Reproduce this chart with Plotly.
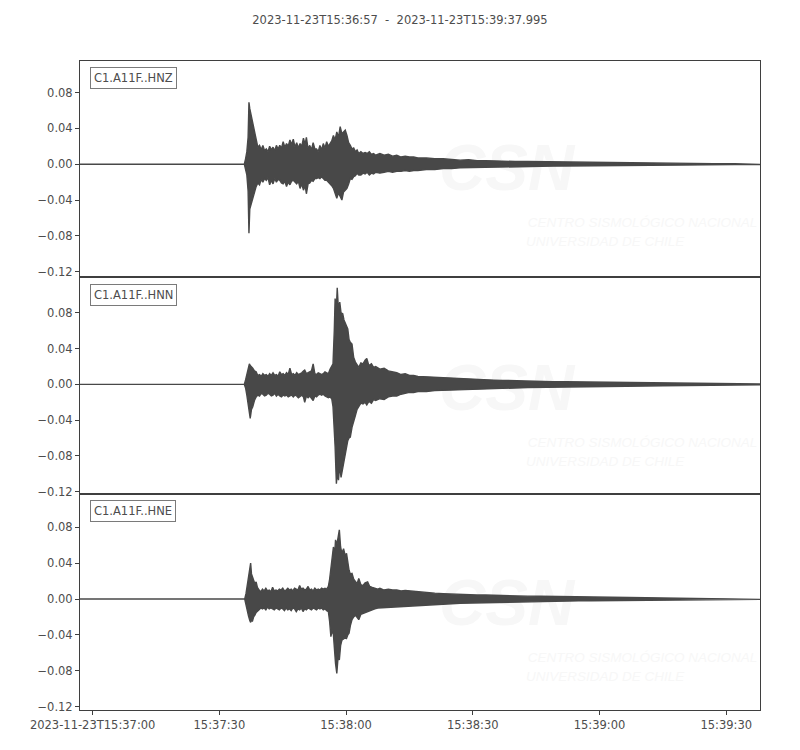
import pandas as pd
import plotly.graph_objects as go
from plotly.subplots import make_subplots

# ---------------- data (seconds after 2023-11-23T15:36:57, envelope max / min) ----------------
START = "2023-11-23 15:36:57"
END = "2023-11-23 15:39:37.995"
TITLE = "2023-11-23T15:36:57\u00a0\u00a0-\u00a0\u00a02023-11-23T15:39:37.995"
CHANNELS = ["C1.A11F..HNZ", "C1.A11F..HNN", "C1.A11F..HNE"]

T_Z = [0, 38.9, 39.2, 39.5, 39.8, 40.0, 40.2, 40.5, 40.8, 41.1, 41.4, 41.7, 42.1, 42.5, 42.9, 43.3,
       43.7, 44.1, 44.5, 44.9, 45.3, 45.7, 46.1, 46.5, 46.9, 47.3, 47.7, 48.1, 48.5, 48.9, 49.3, 49.7,
       50.1, 50.5, 50.9, 51.3, 51.7, 52.1, 52.5, 52.9, 53.3, 53.6, 54.0, 54.4, 54.8, 55.2, 55.6, 56.0,
       56.4, 56.8, 57.2, 57.6, 58.0, 58.4, 58.8, 59.2, 59.6, 60.0, 60.4, 60.8, 61.2, 61.6, 62.0, 62.4,
       62.8, 63.2, 63.6, 64.0, 64.4, 64.8, 65.2, 65.6, 66.0, 66.5, 67.0, 67.5, 68.0, 68.5, 69.0, 69.5,
       70.0, 71, 72, 73, 74, 75, 76, 77, 78, 79, 80, 82, 84, 86, 88, 90, 92, 94, 96, 98, 100, 103, 106,
       109, 112, 115, 118, 121, 124, 127, 130, 134, 138, 142, 146, 150, 155, 161]
UP_Z = [0, 0, 0.006, 0.014, 0.030, 0.069, 0.062, 0.055, 0.046, 0.042, 0.033, 0.025, 0.019, 0.021, 0.016, 0.021,
        0.015, 0.017, 0.014, 0.020, 0.016, 0.019, 0.015, 0.021, 0.017, 0.021, 0.018, 0.025, 0.019, 0.023, 0.020, 0.027,
        0.022, 0.028, 0.019, 0.024, 0.018, 0.023, 0.020, 0.029, 0.022, 0.030, 0.017, 0.021, 0.016, 0.024, 0.017, 0.017,
        0.014, 0.021, 0.016, 0.023, 0.018, 0.025, 0.020, 0.023, 0.026, 0.032, 0.027, 0.036, 0.030, 0.042, 0.034, 0.036,
        0.038, 0.032, 0.024, 0.021, 0.017, 0.018, 0.014, 0.016, 0.012, 0.014, 0.012, 0.013, 0.012, 0.014, 0.011, 0.012,
        0.010, 0.012, 0.010, 0.011, 0.009, 0.010, 0.008, 0.009, 0.008, 0.008, 0.007, 0.007, 0.006, 0.006, 0.005, 0.0045,
        0.005, 0.004, 0.004, 0.0035, 0.0035, 0.003, 0.003, 0.0028, 0.0025, 0.0025, 0.0022, 0.002, 0.0018, 0.0016, 0.0015,
        0.0013, 0.0012, 0.001, 0.0008, 0.0006, 0.0005, 0.0004]
LO_Z = [0, 0, -0.005, -0.012, -0.030, -0.077, -0.050, -0.046, -0.040, -0.035, -0.030, -0.025, -0.021, -0.023, -0.017, -0.020,
        -0.016, -0.018, -0.015, -0.023, -0.018, -0.022, -0.016, -0.020, -0.017, -0.018, -0.021, -0.022, -0.019, -0.025, -0.020, -0.023,
        -0.019, -0.018, -0.020, -0.022, -0.019, -0.027, -0.022, -0.029, -0.024, -0.033, -0.022, -0.021, -0.018, -0.019, -0.016, -0.016,
        -0.015, -0.016, -0.014, -0.016, -0.018, -0.018, -0.021, -0.022, -0.024, -0.027, -0.031, -0.038, -0.032, -0.035, -0.040, -0.031,
        -0.029, -0.027, -0.022, -0.016, -0.017, -0.014, -0.013, -0.010, -0.012, -0.012, -0.010, -0.011, -0.009, -0.012, -0.010, -0.011,
        -0.009, -0.010, -0.009, -0.008, -0.009, -0.008, -0.008, -0.007, -0.008, -0.007, -0.007, -0.006, -0.006, -0.005, -0.005, -0.004,
        -0.004, -0.0035, -0.003, -0.003, -0.003, -0.003, -0.0025, -0.0025, -0.0022, -0.002, -0.002, -0.0018, -0.0016, -0.0015, -0.0014,
        -0.0012, -0.0011, -0.001, -0.0008, -0.0006, -0.0005, -0.0004]

T_N = [0, 38.9, 39.2, 39.5, 39.8, 40.1, 40.3, 40.6, 40.9, 41.3, 41.7, 42.1, 42.5, 42.9, 43.3, 43.7,
       44.1, 44.5, 44.9, 45.3, 45.7, 46.1, 46.5, 46.9, 47.3, 47.7, 48.1, 48.5, 48.9, 49.3, 49.7, 50.1,
       50.5, 50.9, 51.3, 51.7, 52.1, 52.5, 52.9, 53.2, 53.6, 54.0, 54.4, 54.8, 55.2, 55.6, 56.0, 56.4,
       56.8, 57.2, 57.6, 58.0, 58.4, 58.8, 59.2, 59.6, 59.9, 60.2, 60.4, 60.7, 60.9, 61.2, 61.5, 61.8,
       62.2, 62.5, 62.8, 63.1, 63.4, 63.7, 64.0, 64.4, 64.8, 65.2, 65.6, 66.0, 66.5, 67.0, 67.5, 67.9,
       68.4, 69.0, 69.5, 70.0, 71, 72, 73, 74, 75, 76, 77, 78, 79, 80, 82, 84, 86, 88, 90, 92, 94, 96,
       98, 100, 103, 106, 109, 112, 115, 118, 121, 124, 127, 130, 134, 138, 142, 146, 150, 155, 161]
UP_N = [0, 0, 0.005, 0.012, 0.020, 0.023, 0.021, 0.020, 0.018, 0.015, 0.014, 0.010, 0.011, 0.009, 0.012, 0.010,
        0.011, 0.009, 0.012, 0.010, 0.013, 0.010, 0.011, 0.009, 0.014, 0.011, 0.012, 0.010, 0.013, 0.011, 0.018, 0.011,
        0.012, 0.010, 0.013, 0.011, 0.012, 0.013, 0.015, 0.016, 0.012, 0.013, 0.014, 0.015, 0.023, 0.012, 0.011, 0.013,
        0.012, 0.011, 0.012, 0.014, 0.013, 0.012, 0.017, 0.020, 0.023, 0.060, 0.096, 0.085, 0.108, 0.083, 0.092, 0.080,
        0.079, 0.072, 0.068, 0.064, 0.062, 0.050, 0.047, 0.045, 0.030, 0.025, 0.022, 0.019, 0.024, 0.023, 0.027, 0.029,
        0.021, 0.023, 0.019, 0.020, 0.017, 0.018, 0.015, 0.014, 0.013, 0.011, 0.012, 0.010, 0.010, 0.009, 0.0085, 0.008,
        0.007, 0.007, 0.0065, 0.006, 0.0055, 0.005, 0.0048, 0.0045, 0.004, 0.0035, 0.0033, 0.003, 0.003, 0.0028, 0.0026,
        0.0025, 0.0022, 0.002, 0.0019, 0.0016, 0.0013, 0.001, 0.0008, 0.0006, 0.0005]
LO_N = [0, 0, -0.004, -0.012, -0.018, -0.030, -0.038, -0.028, -0.025, -0.018, -0.014, -0.012, -0.013, -0.010, -0.011, -0.013,
        -0.012, -0.010, -0.011, -0.013, -0.012, -0.010, -0.013, -0.011, -0.013, -0.014, -0.012, -0.013, -0.012, -0.014, -0.013, -0.012,
        -0.014, -0.012, -0.013, -0.015, -0.014, -0.012, -0.014, -0.020, -0.013, -0.015, -0.013, -0.016, -0.018, -0.013, -0.014, -0.012,
        -0.011, -0.012, -0.011, -0.013, -0.014, -0.015, -0.014, -0.016, -0.025, -0.055, -0.070, -0.111, -0.100, -0.107, -0.090, -0.104,
        -0.092, -0.085, -0.081, -0.070, -0.063, -0.060, -0.059, -0.048, -0.042, -0.035, -0.028, -0.025, -0.021, -0.022, -0.020, -0.023,
        -0.019, -0.021, -0.017, -0.018, -0.016, -0.017, -0.014, -0.013, -0.013, -0.011, -0.010, -0.009, -0.009, -0.008, -0.008, -0.007,
        -0.0065, -0.006, -0.006, -0.006, -0.005, -0.0048, -0.0045, -0.0045, -0.004, -0.0035, -0.003, -0.0027, -0.0025, -0.0023, -0.0022,
        -0.0022, -0.002, -0.002, -0.0018, -0.0015, -0.0012, -0.001, -0.0008, -0.0006, -0.0005]

T_E = [0, 39.0, 39.3, 39.6, 39.9, 40.2, 40.4, 40.6, 40.8, 41.1, 41.4, 41.7, 42.0, 42.4, 42.8, 43.2,
       43.6, 44.0, 44.4, 44.8, 45.2, 45.6, 46.0, 46.4, 46.8, 47.2, 47.6, 48.0, 48.4, 48.8, 49.2, 49.6,
       50.0, 50.4, 50.8, 51.2, 51.6, 52.0, 52.4, 52.8, 53.2, 53.6, 54.0, 54.4, 54.8, 55.2, 55.6, 56.0,
       56.4, 56.8, 57.2, 57.6, 58.0, 58.4, 58.8, 59.1, 59.4, 59.7, 60.0, 60.3, 60.5, 60.8, 61.1, 61.4,
       61.7, 62.0, 62.4, 62.8, 63.1, 63.4, 63.7, 64.0, 64.4, 64.8, 65.2, 65.6, 66.0, 66.5, 67.0, 67.5,
       68.1, 68.6, 69.2, 69.8, 70.5, 71, 72, 73, 74, 75, 76, 77, 78, 79, 80, 82, 84, 86, 88, 90, 92, 94,
       96, 98, 100, 103, 106, 109, 112, 115, 118, 121, 124, 127, 130, 134, 138, 142, 146, 150, 155, 161]
UP_E = [0, 0, 0.006, 0.014, 0.022, 0.030, 0.040, 0.028, 0.025, 0.021, 0.017, 0.019, 0.013, 0.010, 0.008, 0.011,
        0.009, 0.012, 0.009, 0.010, 0.008, 0.013, 0.009, 0.010, 0.009, 0.011, 0.010, 0.012, 0.009, 0.010, 0.012, 0.010,
        0.011, 0.009, 0.012, 0.011, 0.010, 0.015, 0.011, 0.012, 0.010, 0.011, 0.014, 0.010, 0.011, 0.009, 0.012, 0.010,
        0.011, 0.010, 0.012, 0.011, 0.012, 0.011, 0.014, 0.022, 0.036, 0.045, 0.058, 0.050, 0.066, 0.060, 0.070, 0.077,
        0.058, 0.051, 0.056, 0.048, 0.051, 0.040, 0.032, 0.028, 0.0285, 0.022, 0.019, 0.017, 0.023, 0.016, 0.015, 0.018,
        0.019, 0.014, 0.013, 0.012, 0.011, 0.012, 0.010, 0.011, 0.010, 0.010, 0.009, 0.0095, 0.009, 0.0085, 0.008, 0.007,
        0.0065, 0.006, 0.0055, 0.005, 0.005, 0.0045, 0.0044, 0.004, 0.0038, 0.0035, 0.0032, 0.003, 0.0027, 0.0025, 0.0023,
        0.0021, 0.002, 0.0018, 0.0016, 0.0014, 0.0012, 0.001, 0.0008, 0.0006, 0.0005, 0.0004]
LO_E = [0, 0, -0.006, -0.012, -0.019, -0.024, -0.026, -0.022, -0.025, -0.020, -0.018, -0.015, -0.014, -0.012, -0.010, -0.011,
        -0.010, -0.012, -0.009, -0.011, -0.010, -0.011, -0.012, -0.010, -0.011, -0.012, -0.010, -0.011, -0.013, -0.010, -0.012, -0.011,
        -0.013, -0.010, -0.011, -0.014, -0.011, -0.012, -0.010, -0.014, -0.011, -0.012, -0.010, -0.011, -0.012, -0.010, -0.011, -0.012,
        -0.010, -0.011, -0.010, -0.012, -0.011, -0.013, -0.014, -0.025, -0.042, -0.035, -0.040, -0.055, -0.072, -0.083, -0.065, -0.068,
        -0.052, -0.046, -0.045, -0.043, -0.044, -0.040, -0.038, -0.030, -0.023, -0.020, -0.018, -0.020, -0.023, -0.017, -0.016, -0.015,
        -0.014, -0.013, -0.012, -0.011, -0.010, -0.010, -0.010, -0.009, -0.009, -0.0085, -0.008, -0.008, -0.008, -0.0075, -0.007, -0.0067,
        -0.006, -0.0058, -0.0052, -0.0048, -0.0045, -0.0042, -0.004, -0.0037, -0.0035, -0.0032, -0.003, -0.0028, -0.0025, -0.0023, -0.0021,
        -0.002, -0.0018, -0.0017, -0.0015, -0.0013, -0.0011, -0.001, -0.0008, -0.0006, -0.0005, -0.0004]

X_TICKS = ["2023-11-23 15:37:00", "2023-11-23 15:37:30", "2023-11-23 15:38:00",
           "2023-11-23 15:38:30", "2023-11-23 15:39:00", "2023-11-23 15:39:30"]
X_TICK_TEXT = ["2023-11-23T15:37:00", "15:37:30", "15:38:00", "15:38:30", "15:39:00", "15:39:30"]
Y_TICKS = [[-0.12, -0.08, -0.04, 0.0, 0.04, 0.08],
           [-0.12, -0.08, -0.04, 0.0, 0.04, 0.08, 0.12],
           [-0.12, -0.08, -0.04, 0.0, 0.04, 0.08]]
Y_RANGES = [[-0.1263, 0.1152], [-0.1222, 0.1197], [-0.1237, 0.1174]]

# watermark text
WM_LOGO = "CSN"
WM_LINE1 = "CENTRO SISMOLÓGICO NACIONAL"
WM_LINE2 = "UNIVERSIDAD DE CHILE"

# ---------------- styling ----------------
WAVE = "#484848"
TXT = "#4d4d4d"
AX = "#3f3f3f"
WMC = "#f7f7f7"
FONT = "DejaVu Sans"

# the page body has an 8px margin: figure is sized so the plot lands where the reference puts it
FIG_W, FIG_H = 792, 742

base = pd.Timestamp(START)


def to_x(ts):
    return [(base + pd.to_timedelta(t, unit="s")).strftime("%Y-%m-%d %H:%M:%S.%f") for t in ts]


def fmt(v):
    s = f"{v:.2f}"
    return s.replace("-", "\u2212")


fig = make_subplots(rows=3, cols=1, shared_xaxes=True, vertical_spacing=0)

series = [(T_Z, UP_Z, LO_Z), (T_N, UP_N, LO_N), (T_E, UP_E, LO_E)]
for i, (T, UP, LO) in enumerate(series):
    assert len(T) == len(UP) == len(LO), (i, len(T), len(UP), len(LO))
    row = i + 1
    # watermark (drawn first, below waveform)
    fig.add_trace(go.Scatter(x=to_x([101.0]), y=[-0.011], mode="text", text=[WM_LOGO],
                             textposition="middle center",
                             textfont=dict(family="Liberation Sans", size=64,
                                           color=WMC, weight="bold", style="italic"),
                             hoverinfo="skip", showlegend=False), row=row, col=1)
    fig.add_trace(go.Scatter(x=to_x([106.0, 105.6]), y=[-0.066, -0.088], mode="text",
                             text=[WM_LINE1, WM_LINE2], textposition="middle right",
                             textfont=dict(family="Liberation Sans", size=13.5,
                                           color=WMC, style="italic"),
                             hoverinfo="skip", showlegend=False), row=row, col=1)
    xs = to_x(T)
    fig.add_trace(go.Scatter(x=xs + xs[::-1], y=UP + LO[::-1], mode="lines", fill="toself",
                             fillcolor=WAVE, line=dict(color=WAVE, width=1.4),
                             hoverinfo="skip", showlegend=False), row=row, col=1)
    fig.update_yaxes(range=Y_RANGES[i], tickvals=Y_TICKS[i], ticktext=[fmt(v) for v in Y_TICKS[i]],
                     row=row, col=1)
    fig.add_annotation(text=CHANNELS[i], xref=f"x{'' if row == 1 else row} domain",
                       yref=f"y{'' if row == 1 else row} domain", x=0.0145, y=0.97,
                       xanchor="left", yanchor="top", showarrow=False,
                       font=dict(family=FONT, size=11.5, color=TXT),
                       bordercolor="#7a7a7a", borderwidth=1, borderpad=3, bgcolor="white")

fig.update_yaxes(showgrid=False, zeroline=False, showline=True, mirror=True, linecolor=AX, linewidth=1,
                 ticks="outside", ticklen=4, tickcolor=AX, tickwidth=1,
                 tickfont=dict(family=FONT, size=11.5, color=TXT))
fig.update_xaxes(type="date", range=[START, END], showgrid=False, zeroline=False, showline=True,
                 mirror=True, linecolor=AX, linewidth=1, tickvals=X_TICKS, ticktext=X_TICK_TEXT,
                 ticks="", showticklabels=False)
fig.update_xaxes(ticks="outside", ticklen=4, tickcolor=AX, tickwidth=1, showticklabels=True,
                 tickfont=dict(family=FONT, size=11.5, color=TXT), row=3, col=1)

fig.update_layout(
    width=FIG_W, height=FIG_H,
    margin=dict(l=72, r=40, t=53, b=40),
    paper_bgcolor="white", plot_bgcolor="white",
    showlegend=False,
    title=dict(text=TITLE, x=392 / FIG_W, xref="container", xanchor="center", y=1 - 12 / FIG_H,
               yref="container", yanchor="middle", font=dict(family=FONT, size=11.5, color=TXT)),
    font=dict(family=FONT, color=TXT),
)

fig.write_html("out.html")
